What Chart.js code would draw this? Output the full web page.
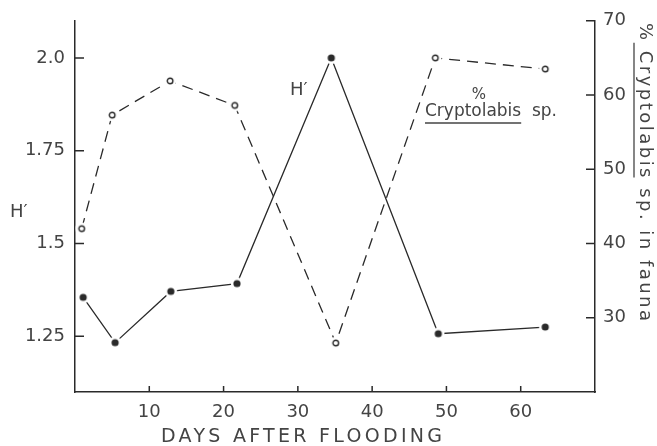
<!DOCTYPE html>
<html><head><meta charset="utf-8">
<script src="https://cdn.jsdelivr.net/npm/chart.js@4"></script>
<style>html,body{margin:0;padding:0;background:#fff}#wrap{width:657px;height:446px}</style>
</head><body><div id="wrap"><canvas id="c" width="657" height="446"></canvas></div>
<script>
// ---- data ----
const hDays = [1.1, 5.4, 12.9, 21.8, 34.5, 48.9, 63.3];
const hValues = [1.355, 1.233, 1.371, 1.392, 2.0, 1.257, 1.275];
const cDays = [0.9, 5.0, 12.8, 21.5, 35.1, 48.5, 63.3];
const cValues = [42.0, 57.3, 61.9, 58.6, 26.6, 65.0, 63.5];
const xTicks = [10, 20, 30, 40, 50, 60];
const hTicks = [1.25, 1.5, 1.75, 2.0];
const hTickLabels = ['1.25', '1.5', '1.75', '2.0'];
const cTicks = [30, 40, 50, 60, 70];
const xTitle = 'DAYS AFTER FLOODING';
const hTitle = 'H\u2032';
const hLineLabel = 'H\u2032';
const cPct = '%';
const cName = 'Cryptolabis';
const cNameRest = '  sp.';
const rightTitleParts = ['% ', 'Cryptolabis', ' sp. in fauna'];

const INK = '#2a2a2a';
const TXT = '#444444';
const FONT = '"DejaVu Sans", sans-serif';

function marker(filled) {
  const c = document.createElement('canvas');
  c.width = 14; c.height = 14;
  const g = c.getContext('2d');
  g.fillStyle = '#fff';
  g.beginPath(); g.arc(7, 7, 6.2, 0, Math.PI * 2); g.fill();
  if (filled) {
    g.fillStyle = INK;
    g.beginPath(); g.arc(7, 7, 3.6, 0, Math.PI * 2); g.fill();
  } else {
    g.strokeStyle = INK; g.lineWidth = 1.4;
    g.beginPath(); g.arc(7, 7, 2.8, 0, Math.PI * 2); g.stroke();
  }
  return c;
}

function fitText(ctx, text, x, y, width) {
  ctx.letterSpacing = '0px';
  const w = ctx.measureText(text).width;
  const ls = (width - w) / Math.max(1, text.length - 1);
  ctx.letterSpacing = ls + 'px';
  ctx.fillText(text, x, y);
  return ls;
}

const decor = {
  id: 'decor',
  afterDraw(chart) {
    const ctx = chart.ctx;
    const {x, y, y1} = chart.scales;
    const a = chart.chartArea;
    ctx.save();
    // inward tick marks
    ctx.strokeStyle = INK; ctx.lineWidth = 1.5;
    ctx.beginPath();
    xTicks.forEach(v => { const px = x.getPixelForValue(v); ctx.moveTo(px, a.bottom); ctx.lineTo(px, a.bottom - 6); });
    hTicks.forEach(v => { const py = y.getPixelForValue(v); ctx.moveTo(a.left, py); ctx.lineTo(a.left + 9, py); });
    cTicks.forEach(v => { const py = y1.getPixelForValue(v); ctx.moveTo(a.right, py); ctx.lineTo(a.right - 9, py); });
    ctx.stroke();

    ctx.fillStyle = TXT;
    ctx.textBaseline = 'alphabetic';
    ctx.textAlign = 'left';
    // x axis title
    ctx.font = '19px ' + FONT;
    fitText(ctx, xTitle, 161, 442, 281);
    // left H'
    ctx.letterSpacing = '0px';
    ctx.font = '18px ' + FONT;
    ctx.fillText(hTitle, 10, 217);
    // H' near line
    ctx.fillText(hLineLabel, 290, 95);
    // % Cryptolabis sp. annotation
    ctx.font = '15px ' + FONT;
    ctx.textAlign = 'center';
    ctx.fillText(cPct, 479, 99);
    ctx.textAlign = 'left';
    ctx.font = '17px ' + FONT;
    const ls = fitText(ctx, cName + cNameRest, 425, 116, 132);
    ctx.letterSpacing = ls + 'px';
    const wName = ctx.measureText(cName).width - ls;
    ctx.strokeStyle = TXT; ctx.lineWidth = 1.3;
    ctx.beginPath(); ctx.moveTo(425, 123); ctx.lineTo(425 + wName, 123); ctx.stroke();

    // right axis title, rotated
    ctx.save();
    ctx.translate(640, 23);
    ctx.rotate(Math.PI / 2);
    ctx.font = '18px ' + FONT;
    const full = rightTitleParts.join('');
    const ls2 = fitText(ctx, full, 0, 0, 298);
    ctx.letterSpacing = ls2 + 'px';
    const w0 = ctx.measureText(rightTitleParts[0]).width;
    const w1 = ctx.measureText(rightTitleParts[1]).width - ls2;
    ctx.beginPath(); ctx.moveTo(w0 - 8, 6); ctx.lineTo(w0 + w1, 6); ctx.stroke();
    ctx.restore();
    ctx.restore();
  }
};

new Chart(document.getElementById('c'), {
  type: 'line',
  data: {
    datasets: [
      {
        label: 'H\u2032',
        data: hDays.map((d, i) => ({x: d, y: hValues[i]})),
        yAxisID: 'y',
        borderColor: INK, borderWidth: 1.3,
        pointStyle: marker(true), pointRadius: 6, pointHoverRadius: 6,
        tension: 0
      },
      {
        label: '% Cryptolabis sp.',
        data: cDays.map((d, i) => ({x: d, y: cValues[i]})),
        yAxisID: 'y1',
        borderColor: INK, borderWidth: 1.3, borderDash: [11, 7],
        pointStyle: marker(false), pointRadius: 6, pointHoverRadius: 6,
        tension: 0
      }
    ]
  },
  options: {
    responsive: false,
    animation: false,
    events: [],
    layout: {padding: {top: 15, left: 0, right: 0, bottom: 0}},
    plugins: {legend: {display: false}, tooltip: {enabled: false}},
    scales: {
      x: {
        type: 'linear', min: 0, max: 70,
        afterBuildTicks: s => { s.ticks = xTicks.map(v => ({value: v})); },
        afterFit: s => { s.height = 54; },
        grid: {display: false, drawTicks: false},
        border: {display: true, color: INK, width: 1.5},
        ticks: {padding: 10, color: TXT, font: {family: FONT, size: 18}, callback: v => String(v)}
      },
      y: {
        type: 'linear', position: 'left', min: 1.1, max: 2.1,
        afterBuildTicks: s => { s.ticks = hTicks.map(v => ({value: v})); },
        afterFit: s => { s.width = 75; },
        grid: {display: false, drawTicks: false},
        border: {display: true, color: INK, width: 1.5},
        ticks: {padding: 10, color: TXT, font: {family: FONT, size: 18},
          callback: v => hTickLabels[hTicks.indexOf(v)] ?? ''}
      },
      y1: {
        type: 'linear', position: 'right', min: 20, max: 70,
        afterBuildTicks: s => { s.ticks = cTicks.map(v => ({value: v})); },
        afterFit: s => { s.width = 62; },
        grid: {display: false, drawTicks: false},
        border: {display: true, color: INK, width: 1.5},
        ticks: {padding: 8, color: TXT, font: {family: FONT, size: 18}, callback: v => String(v)}
      }
    }
  },
  plugins: [decor]
});
</script></body></html>
